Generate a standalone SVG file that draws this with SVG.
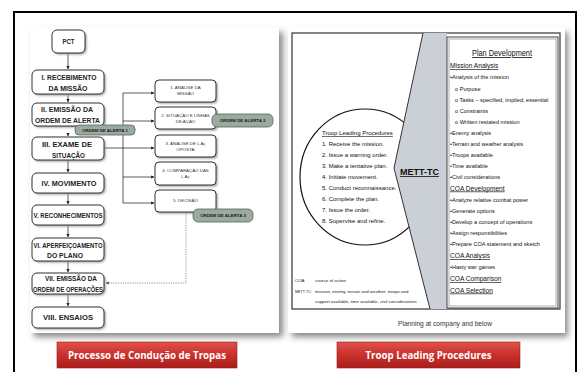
<svg xmlns="http://www.w3.org/2000/svg" width="578" height="372" viewBox="0 0 578 372">
<defs>
<filter id="blur" x="-10%" y="-10%" width="120%" height="120%"><feGaussianBlur stdDeviation="3"/></filter>
<filter id="sblur" x="-20%" y="-20%" width="140%" height="140%"><feGaussianBlur stdDeviation="0.8"/></filter>
<linearGradient id="red" x1="0" y1="0" x2="0" y2="1">
<stop offset="0" stop-color="#e0524b"/><stop offset="0.5" stop-color="#c9302c"/><stop offset="1" stop-color="#a81e1c"/>
</linearGradient>
<marker id="ah" viewBox="0 0 6 6" refX="5.5" refY="3" markerWidth="4" markerHeight="4" orient="auto"><path d="M0,0 L6,3 L0,6 Z" fill="#222"/></marker>
<marker id="ahg" viewBox="0 0 6 6" refX="5.5" refY="3" markerWidth="4" markerHeight="4" orient="auto"><path d="M0,0 L6,3 L0,6 Z" fill="#555"/></marker>
<style>
.box{fill:#fff;stroke:#333;stroke-width:1}
.bsh{fill:#999;filter:url(#sblur)}
.mt{font-family:"Liberation Sans",Arial,sans-serif;font-weight:bold;font-size:7.5px;fill:#222;text-anchor:middle}
.st{font-family:"Liberation Sans",Arial,sans-serif;font-size:4.4px;fill:#333;text-anchor:middle}
.pill{fill:#9aaa9f;stroke:#56665b;stroke-width:0.8}
.pt{font-family:"Liberation Sans",Arial,sans-serif;font-weight:bold;font-size:4.4px;fill:#1a1a1a;text-anchor:middle}
.ln{fill:none;stroke:#333;stroke-width:0.8}
.rt{font-family:"Liberation Sans",Arial,sans-serif;font-size:5.6px;fill:#111}
.rh{font-family:"Liberation Sans",Arial,sans-serif;font-size:6.6px;fill:#111;text-decoration:underline}
.et{font-family:"Liberation Sans",Arial,sans-serif;font-size:6px;fill:#111}
.nt{font-family:"Liberation Sans",Arial,sans-serif;font-size:4.4px;fill:#222}
.btn{font-family:"Open Sans","Liberation Sans",sans-serif;font-weight:bold;font-size:11px;fill:#fff;text-anchor:middle}
</style>
</defs>
<rect width="578" height="372" fill="#fff"/>
<path d="M14,372 V12 H576 V372" fill="none" stroke="#000" stroke-width="2"/>

<!-- panels -->
<rect x="34" y="32" width="249" height="305" fill="#888" filter="url(#blur)"/>
<rect x="30" y="27" width="249" height="306" fill="#fff"/>
<rect x="292" y="32" width="276" height="305" fill="#888" filter="url(#blur)"/>
<rect x="288" y="27" width="277" height="306" fill="#fff"/>

<!-- connectors (left) -->
<g id="connectors">
<line class="ln" x1="68" y1="53" x2="68" y2="69" marker-end="url(#ah)"/>
<line class="ln" x1="68" y1="95" x2="68" y2="102" marker-end="url(#ah)"/>
<line class="ln" x1="68" y1="135" x2="68" y2="136" marker-end="url(#ah)"/>
<line class="ln" x1="68" y1="160" x2="68" y2="172" marker-end="url(#ah)"/>
<line class="ln" x1="68" y1="193" x2="68" y2="204" marker-end="url(#ah)"/>
<line class="ln" x1="68" y1="226" x2="68" y2="237" marker-end="url(#ah)"/>
<line class="ln" x1="68" y1="261" x2="68" y2="272" marker-end="url(#ah)"/>
<line class="ln" x1="68" y1="295" x2="68" y2="306" marker-end="url(#ah)"/>
<polyline class="ln" points="104,148 123,148"/>
<line class="ln" x1="123" y1="93" x2="123" y2="203"/>
<line class="ln" x1="123" y1="93" x2="154" y2="93" marker-end="url(#ah)"/>
<line class="ln" x1="123" y1="121" x2="154" y2="121" marker-end="url(#ah)"/>
<line class="ln" x1="123" y1="148" x2="154" y2="148" marker-end="url(#ah)"/>
<line class="ln" x1="123" y1="177" x2="154" y2="177" marker-end="url(#ah)"/>
<line class="ln" x1="123" y1="203" x2="154" y2="203" marker-end="url(#ah)"/>
<polyline points="186,213 186,283 106,283" fill="none" stroke="#777" stroke-width="0.8" stroke-dasharray="1.2,1.2" marker-end="url(#ahg)"/>
</g>

<!-- main boxes -->
<g id="pct"><rect class="bsh" x="53.5" y="31.5" width="33" height="23" rx="5"/><rect class="box" x="52" y="30" width="33" height="23" rx="5"/><text class="mt" x="68.5" y="44" font-size="6" textLength="12" lengthAdjust="spacingAndGlyphs">PCT</text></g>
<g id="b1"><rect class="bsh" x="33.5" y="71.5" width="72" height="24" rx="5"/><rect class="box" x="32" y="70" width="72" height="24" rx="5"/><text class="mt" x="69" y="80" textLength="55" lengthAdjust="spacingAndGlyphs">I. RECEBIMENTO</text><text class="mt" x="68" y="91" textLength="39" lengthAdjust="spacingAndGlyphs">DA MISSÃO</text></g>
<g id="b2"><rect class="bsh" x="33.5" y="104.5" width="72" height="23" rx="5"/><rect class="box" x="32" y="103" width="72" height="23" rx="5"/><text class="mt" x="67" y="112" textLength="52" lengthAdjust="spacingAndGlyphs">II. EMISSÃO DA</text><text class="mt" x="67.5" y="123" textLength="65" lengthAdjust="spacingAndGlyphs">ORDEM DE ALERTA</text></g>
<g id="b3"><rect class="bsh" x="33.5" y="138.5" width="72" height="23" rx="5"/><rect class="box" x="32" y="137" width="72" height="23" rx="5"/><text class="mt" x="67" y="147" textLength="50" lengthAdjust="spacingAndGlyphs">III. EXAME DE</text><text class="mt" x="68.5" y="157.5" textLength="33" lengthAdjust="spacingAndGlyphs">SITUAÇÃO</text></g>
<g id="b4"><rect class="bsh" x="33.5" y="174.5" width="72" height="20" rx="5"/><rect class="box" x="32" y="173" width="72" height="20" rx="5"/><text class="mt" x="69" y="186" textLength="55" lengthAdjust="spacingAndGlyphs">IV. MOVIMENTO</text></g>
<g id="b5"><rect class="bsh" x="33.5" y="206.5" width="72" height="20" rx="5"/><rect class="box" x="32" y="205" width="72" height="20" rx="5"/><text class="mt" x="68" y="218" textLength="69" lengthAdjust="spacingAndGlyphs">V. RECONHECIMENTOS</text></g>
<g id="b6"><rect class="bsh" x="33.5" y="239.5" width="72" height="23" rx="5"/><rect class="box" x="32" y="238" width="72" height="23" rx="5"/><text class="mt" x="68" y="247.5" textLength="69" lengthAdjust="spacingAndGlyphs">VI. APERFEIÇOAMENTO</text><text class="mt" x="65" y="258" textLength="36" lengthAdjust="spacingAndGlyphs">DO PLANO</text></g>
<g id="b7"><rect class="bsh" x="33.5" y="274.5" width="72" height="21" rx="5"/><rect class="box" x="32" y="273" width="72" height="21" rx="5"/><text class="mt" x="71" y="281" textLength="52" lengthAdjust="spacingAndGlyphs">VII. EMISSÃO DA</text><text class="mt" x="68" y="291.5" textLength="70" lengthAdjust="spacingAndGlyphs">ORDEM DE OPERAÇÕES</text></g>
<g id="b8"><rect class="bsh" x="33.5" y="308.5" width="72" height="21" rx="5"/><rect class="box" x="32" y="307" width="72" height="21" rx="5"/><text class="mt" x="68" y="320" textLength="50" lengthAdjust="spacingAndGlyphs">VIII. ENSAIOS</text></g>

<!-- sub boxes -->
<g id="s1"><rect class="bsh" x="156.5" y="81.5" width="61" height="22" rx="4"/><rect class="box" x="155" y="80" width="61" height="22" rx="4"/><text class="st" x="185.5" y="89">1. ANÁLISE DA</text><text class="st" x="185.5" y="95">MISSÃO</text></g>
<g id="s2"><rect class="bsh" x="156.5" y="108.5" width="61" height="22" rx="4"/><rect class="box" x="155" y="107" width="61" height="22" rx="4"/><text class="st" x="185.5" y="117">2. SITUAÇÃO E LINHAS</text><text class="st" x="185.5" y="123">DE AÇÃO</text></g>
<g id="s3"><rect class="bsh" x="156.5" y="136.5" width="61" height="22" rx="4"/><rect class="box" x="155" y="135" width="61" height="22" rx="4"/><text class="st" x="185.5" y="144.5">3. ANÁLISE DE L Aç</text><text class="st" x="185.5" y="150.5">OPOSTA</text></g>
<g id="s4"><rect class="bsh" x="156.5" y="163.5" width="61" height="23" rx="4"/><rect class="box" x="155" y="162" width="61" height="23" rx="4"/><text class="st" x="185.5" y="171.5">4. COMPARAÇÃO DAS</text><text class="st" x="185.5" y="178">L Aç</text></g>
<g id="s5"><rect class="bsh" x="156.5" y="191.5" width="61" height="22" rx="4"/><rect class="box" x="155" y="190" width="61" height="22" rx="4"/><text class="st" x="185.5" y="202">5. DECISÃO</text></g>

<!-- pills -->
<g id="pill1"><rect class="pill" x="75" y="125" width="60" height="10" rx="4"/><text class="pt" x="105" y="131.6">ORDEM DE ALERTA 1</text></g>
<g id="pill2"><rect class="pill" x="212" y="114" width="61" height="13" rx="5"/><text class="pt" x="242.5" y="122.1">ORDEM DE ALERTA 2</text></g>
<g id="pill3"><rect class="pill" x="193" y="209" width="60" height="13" rx="5"/><text class="pt" x="223" y="217.1">ORDEM DE ALERTA 3</text></g>

<!-- right panel -->
<g id="right-frame">
<rect x="292" y="33" width="268" height="276" fill="none" stroke="#444" stroke-width="1.3"/>
</g>
<g id="tlp">
<ellipse cx="365" cy="177" rx="65" ry="68" fill="none" stroke="#111" stroke-width="1.2"/>
<text class="et" x="322" y="135" font-size="6.8" text-decoration="underline">Troop Leading Procedures</text>
<text class="et" x="322" y="146">1.  Receive the mission.</text>
<text class="et" x="322" y="157">2.  Issue a warning order.</text>
<text class="et" x="322" y="168">3.  Make a tentative plan.</text>
<text class="et" x="322" y="178.5">4.  Initiate movement.</text>
<text class="et" x="322" y="189.5">5.  Conduct reconnaissance.</text>
<text class="et" x="322" y="200.5">6.  Complete the plan.</text>
<text class="et" x="322" y="211.5">7.  Issue the order.</text>
<text class="et" x="322" y="222.5">8.  Supervise and refine.</text>
</g>
<g id="mett">
<polygon points="423,33 394,168 430,309 447,309 447,33" fill="#cbd0d6"/>
<polyline points="423,33 394,168 430,309" fill="none" stroke="#333" stroke-width="1"/>
<text x="400" y="175" font-family="'Liberation Sans',Arial,sans-serif" font-weight="bold" font-size="8.4px" fill="#111" text-decoration="underline" textLength="39" lengthAdjust="spacingAndGlyphs">METT-TC</text>
</g>
<g id="plan">
<rect x="447" y="37" width="111" height="271" fill="#fff" stroke="#444" stroke-width="1"/>
<rect x="449" y="39" width="107" height="267" fill="none" stroke="#777" stroke-width="0.6"/>
<text x="502" y="56" text-anchor="middle" font-family="'Liberation Sans',Arial,sans-serif" font-size="8.2px" fill="#111" text-decoration="underline" textLength="60" lengthAdjust="spacingAndGlyphs">Plan Development</text>
<text class="rh" x="450" y="68">Mission Analysis</text>
<text class="rt" x="450" y="79">•Analysis of the mission</text>
<text class="rt" x="455" y="90.5">o Purpose</text>
<text class="rt" x="455" y="101.5">o Tasks – specified, implied, essential</text>
<text class="rt" x="455" y="112.5">o Constraints</text>
<text class="rt" x="455" y="123.5">o Written restated mission</text>
<text class="rt" x="450" y="135">•Enemy analysis</text>
<text class="rt" x="450" y="146">•Terrain and weather analysis</text>
<text class="rt" x="450" y="157">•Troops available</text>
<text class="rt" x="450" y="168">•Time available</text>
<text class="rt" x="450" y="179">•Civil considerations</text>
<text class="rh" x="450" y="190.5">COA Development</text>
<text class="rt" x="450" y="201.5">•Analyze relative combat power</text>
<text class="rt" x="450" y="212.5">•Generate options</text>
<text class="rt" x="450" y="223.5">•Develop a concept of operations</text>
<text class="rt" x="450" y="234.5">•Assign responsibilities</text>
<text class="rt" x="450" y="245.5">•Prepare COA statement and sketch</text>
<text class="rh" x="450" y="258">COA Analysis</text>
<text class="rt" x="450" y="269">•Hasty war games</text>
<text class="rh" x="450" y="281">COA Comparison</text>
<text class="rh" x="450" y="292.5">COA Selection</text>
</g>
<g id="notes">
<text class="nt" x="295" y="281.5">COA</text>
<text class="nt" x="315" y="281.5">course of action</text>
<text class="nt" x="295" y="292.5" textLength="17" lengthAdjust="spacingAndGlyphs">METT-TC:</text>
<text class="nt" x="315" y="292.5">mission, enemy, terrain and weather, troops and</text>
<text class="nt" x="315" y="303">support available, time available, civil considerations</text>
</g>
<text x="445" y="325.5" text-anchor="middle" font-family="'Liberation Sans',Arial,sans-serif" font-size="7px" fill="#333" textLength="94" lengthAdjust="spacingAndGlyphs">Planning at company and below</text>

<!-- buttons -->
<g id="btn-left"><rect x="57" y="342" width="180" height="26" fill="url(#red)" stroke="#9a1a18" stroke-width="0.6"/><text class="btn" x="147" y="359" textLength="158" lengthAdjust="spacingAndGlyphs">Processo de Condução de Tropas</text></g>
<g id="btn-right"><rect x="337" y="342" width="183" height="26" fill="url(#red)" stroke="#9a1a18" stroke-width="0.6"/><text class="btn" x="428.5" y="359" textLength="126" lengthAdjust="spacingAndGlyphs">Troop Leading Procedures</text></g>
</svg>
